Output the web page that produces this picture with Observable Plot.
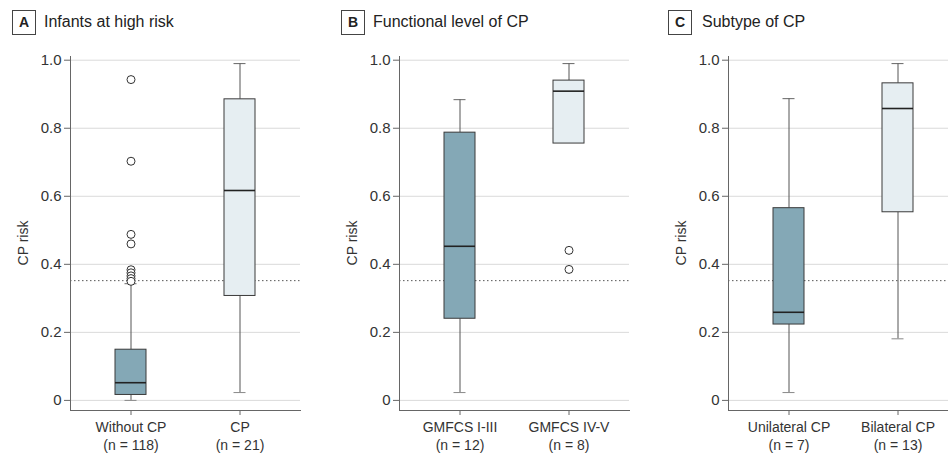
<!DOCTYPE html>
<html>
<head>
<meta charset="utf-8">
<script src="https://cdn.jsdelivr.net/npm/d3@7"></script>
<script src="https://cdn.jsdelivr.net/npm/@observablehq/plot@0.6"></script>
<style>
  html, body { margin: 0; padding: 0; background: #fff; overflow: hidden; }
  #wrap { position: relative; width: 948px; height: 453px; overflow: hidden; font-family: "Liberation Sans", Arial, sans-serif; color: #222; }
  .panel { position: absolute; top: 40px; width: 300px; height: 413px; }
  .panel svg { max-width: none !important; width: 300px; height: 413px; }
  .badge { position: absolute; top: 10px; width: 22px; height: 23px; border: 1px solid #444; box-sizing: content-box;
           font-weight: bold; font-size: 14px; line-height: 23px; text-align: center; color: #222; }
  .ptitle { position: absolute; top: 12px; font-size: 16px; line-height: 20px; color: #222; white-space: nowrap; }
  .ylabel { position: absolute; top: 243px; width: 80px; height: 18px; margin-left: -40px; margin-top: -9px;
            font-size: 14px; line-height: 18px; text-align: center; color: #333; transform: rotate(-90deg); white-space: nowrap; }
</style>
</head>
<body>
<div id="wrap"></div>
<script>
// ---- data ----
const panelLetters = ["A", "B", "C"];
const panelTitles = ["Infants at high risk", "Functional level of CP", "Subtype of CP"];
const yLabel = "CP risk";

const groups      = ["Without CP", "CP", "GMFCS I-III", "GMFCS IV-V", "Unilateral CP", "Bilateral CP"];
const groupN      = [118, 21, 12, 8, 7, 13];
const groupPanel  = [0, 0, 1, 1, 2, 2];
const whiskerLow  = [0.000, 0.023, 0.023, 0.755, 0.023, 0.181];
const quartile1   = [0.016, 0.307, 0.240, 0.755, 0.223, 0.553];
const medians     = [0.052, 0.617, 0.453, 0.909, 0.259, 0.858];
const quartile3   = [0.149, 0.885, 0.787, 0.940, 0.565, 0.932];
const whiskerHigh = [0.343, 0.990, 0.884, 0.990, 0.887, 0.990];

const outlierGroup = ["Without CP", "Without CP", "Without CP", "Without CP", "Without CP", "Without CP", "Without CP", "Without CP", "Without CP", "GMFCS IV-V", "GMFCS IV-V"];
const outlierValue = [0.943, 0.703, 0.488, 0.460, 0.384, 0.375, 0.366, 0.358, 0.350, 0.441, 0.385];

const riskThreshold = 0.352;
const yTicks = [0, 0.2, 0.4, 0.6, 0.8, 1.0];

// ---- styling ----
const fillDark = "#84a8b6";
const fillLight = "#e6eef2";
const panelLeft = [0, 329, 658];
const badgeLeft = [12, 341, 668];
const titleLeft = [44, 373, 702];
const ylabelCenter = [23, 352, 681];
const FONT = "'Liberation Sans', Arial, sans-serif";

const wrap = document.getElementById("wrap");

function makePanel(p) {
  const rows = groups.map((g, i) => ({
    g, n: groupN[i], panel: groupPanel[i], lo: whiskerLow[i], q1: quartile1[i],
    med: medians[i], q3: quartile3[i], hi: whiskerHigh[i]
  })).filter(d => d.panel === p);
  rows.forEach((d, j) => d.fill = j === 0 ? fillDark : fillLight);
  const names = rows.map(d => d.g);
  const nOf = Object.fromEntries(rows.map(d => [d.g, d.n]));
  const outs = outlierGroup.map((g, i) => ({g, v: outlierValue[i]})).filter(d => names.includes(d.g));
  const upper = rows.filter(d => d.hi > d.q3);
  const lower = rows.filter(d => d.lo < d.q1);

  return Plot.plot({
    width: 300, height: 413,
    marginLeft: 70, marginRight: 0, marginTop: 16, marginBottom: 43,
    style: {fontFamily: FONT, fontSize: "14px", color: "#333", background: "transparent", overflow: "visible"},
    x: {domain: names, paddingInner: 0.718, paddingOuter: 0.4045, label: null},
    y: {domain: [0, 1], range: [359.9, 19.7], label: null},
    color: {type: "identity"},
    marks: [
      Plot.gridY(yTicks, {stroke: "#dadada", strokeOpacity: 1}),
      Plot.ruleY([riskThreshold], {stroke: "#555", strokeDasharray: "1.5,2.5"}),
      Plot.frame({anchor: "left", stroke: "#666"}),
      Plot.frame({anchor: "bottom", stroke: "#666"}),
      Plot.axisY(yTicks, {tickSize: 6, tickPadding: 3, stroke: "#666", fill: "#333", fontSize: 15,
        tickFormat: d => d === 0 ? "0" : d.toFixed(1), label: null}),
      Plot.axisX({tickSize: 5, tickPadding: 3, stroke: "#666", fill: "#333", fontSize: 14, lineHeight: 1.32,
        tickFormat: g => `${g}\n(n = ${nOf[g]})`, label: null}),
      Plot.ruleX(upper, {x: "g", y1: "q3", y2: "hi", stroke: "#555"}),
      Plot.ruleX(lower, {x: "g", y1: "lo", y2: "q1", stroke: "#555"}),
      Plot.tickY(upper, {x: "g", y: "hi", insetLeft: 9.5, insetRight: 9.5, stroke: "#666"}),
      Plot.tickY(lower, {x: "g", y: "lo", insetLeft: 9.5, insetRight: 9.5, stroke: "#888"}),
      Plot.barY(rows, {x: "g", y1: "q1", y2: "q3", fill: "fill", stroke: "#3a3a3a", strokeWidth: 1}),
      Plot.tickY(rows, {x: "g", y: "med", stroke: "#222", strokeWidth: 1.6}),
      Plot.dot(outs, {x: "g", y: "v", r: 4, stroke: "#333", fill: "white", strokeWidth: 1})
    ]
  });
}

for (let p = 0; p < 3; p++) {
  const holder = document.createElement("div");
  holder.className = "panel";
  holder.style.left = panelLeft[p] + "px";
  holder.appendChild(makePanel(p));
  wrap.appendChild(holder);

  const badge = document.createElement("div");
  badge.className = "badge";
  badge.style.left = badgeLeft[p] + "px";
  badge.textContent = panelLetters[p];
  wrap.appendChild(badge);

  const title = document.createElement("div");
  title.className = "ptitle";
  title.style.left = titleLeft[p] + "px";
  title.textContent = panelTitles[p];
  wrap.appendChild(title);

  const yl = document.createElement("div");
  yl.className = "ylabel";
  yl.style.left = ylabelCenter[p] + "px";
  yl.textContent = yLabel;
  wrap.appendChild(yl);
}
</script>
</body>
</html>
